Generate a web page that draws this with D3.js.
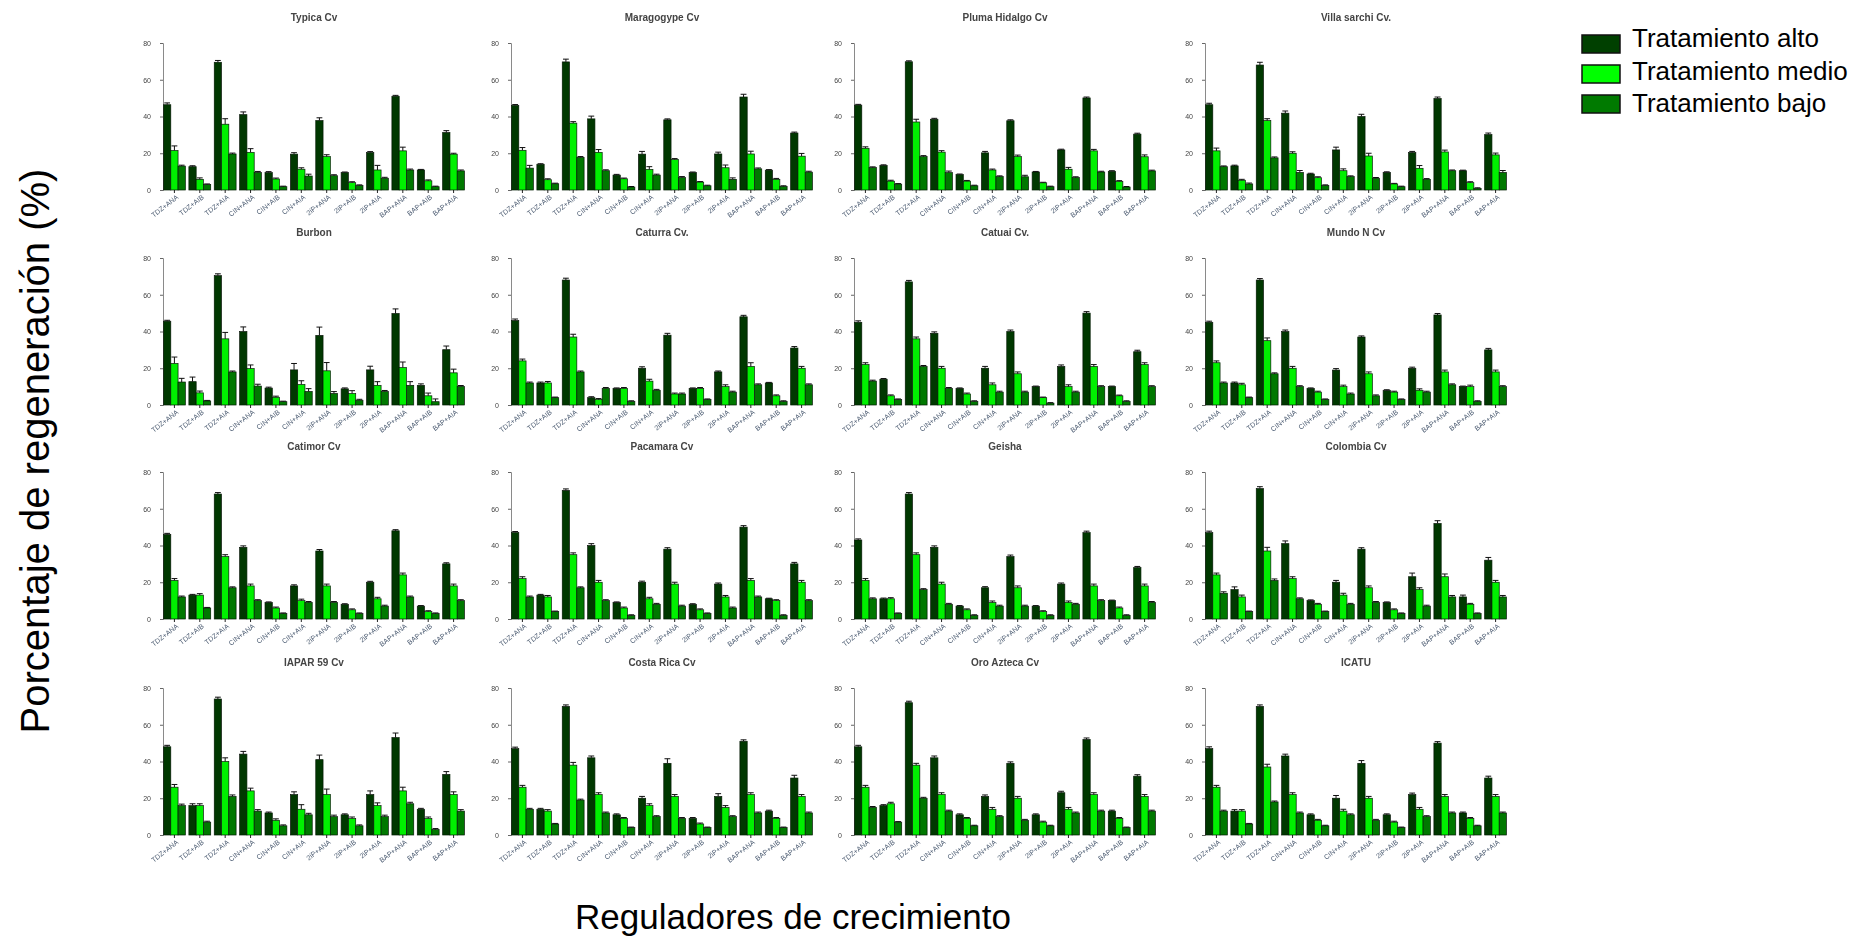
<!DOCTYPE html>
<html>
<head>
<meta charset="utf-8">
<script src="https://cdn.jsdelivr.net/npm/d3@7"></script>
<style>
  html, body { margin: 0; padding: 0; background: #fff; }
  svg { display: block; }
</style>
</head>
<body>
<script>
// Cultivars, one small panel each (4 x 4 grid, read row by row)
const cultivars = [
  "Typica Cv", "Maragogype Cv", "Pluma Hidalgo Cv", "Villa sarchi Cv.",
  "Burbon", "Caturra Cv.", "Catuai Cv.", "Mundo N Cv",
  "Catimor Cv", "Pacamara Cv", "Geisha", "Colombia Cv",
  "IAPAR 59 Cv", "Costa Rica Cv", "Oro Azteca Cv", "ICATU"
];

// Growth-regulator combinations on the x axis of every panel
const categories = [
  "TDZ+ANA", "TDZ+AIB", "TDZ+AIA",
  "CIN+ANA", "CIN+AIB", "CIN+AIA",
  "2iP+ANA", "2iP+AIB", "2iP+AIA",
  "BAP+ANA", "BAP+AIB", "BAP+AIA"
];

const seriesNames = ["Tratamiento alto", "Tratamiento medio", "Tratamiento bajo"];
const yTicks = [0, 20, 40, 60, 80];

// Regeneration (%) — one row per cultivar, in the order of `cultivars`
const altoValues = [
  [46.4, 12.7, 69.5, 41.0, 9.5, 19.5, 37.8, 9.5, 20.4, 51.0, 10.9, 31.3],
  [46.0, 14.0, 69.7, 38.7, 8.1, 19.5, 38.2, 9.5, 19.6, 50.6, 10.8, 31.0],
  [46.2, 13.4, 69.8, 38.5, 8.4, 20.2, 37.7, 9.8, 21.8, 50.1, 10.2, 30.4],
  [46.4, 13.1, 68.0, 41.8, 8.7, 21.8, 40.0, 9.6, 20.4, 49.8, 10.5, 30.2],
  [45.6, 12.7, 70.4, 40.0, 9.2, 19.1, 37.9, 8.8, 19.1, 49.8, 10.7, 30.1],
  [46.0, 12.0, 68.0, 4.0, 9.0, 20.0, 38.0, 9.0, 18.0, 48.0, 12.0, 31.0],
  [45.0, 14.0, 67.0, 39.0, 9.0, 20.0, 40.0, 10.0, 21.0, 50.0, 10.0, 29.0],
  [45.0, 12.0, 68.0, 40.0, 9.0, 19.0, 37.0, 8.0, 20.0, 49.0, 10.0, 30.0],
  [46.0, 13.0, 68.0, 39.0, 9.0, 18.0, 37.0, 8.0, 20.0, 48.0, 7.0, 30.0],
  [47.0, 13.0, 70.0, 40.0, 9.0, 20.0, 38.0, 8.0, 19.0, 50.0, 11.0, 30.0],
  [43.0, 11.0, 68.0, 39.0, 7.0, 17.0, 34.0, 7.0, 19.0, 47.0, 10.0, 28.0],
  [47.0, 16.0, 71.0, 41.0, 10.0, 20.0, 38.0, 9.0, 23.0, 52.0, 12.0, 32.0],
  [48.0, 16.0, 74.0, 44.0, 12.0, 22.0, 41.0, 11.0, 22.0, 53.0, 14.0, 33.0],
  [47.0, 14.0, 70.0, 42.0, 11.0, 20.0, 39.0, 9.0, 21.0, 51.0, 13.0, 31.0],
  [48.0, 16.0, 72.0, 42.0, 11.0, 21.0, 39.0, 11.0, 23.0, 52.0, 13.0, 32.0],
  [47.0, 13.0, 70.0, 43.0, 11.0, 20.0, 39.0, 11.0, 22.0, 50.0, 12.0, 31.0]
];
const medioValues = [
  [21.5, 5.8, 35.8, 20.5, 6.0, 11.3, 18.2, 4.0, 10.9, 21.3, 5.0, 19.5],
  [21.6, 5.6, 36.4, 20.5, 6.1, 11.2, 16.6, 4.3, 12.1, 19.6, 5.8, 18.4],
  [22.7, 4.8, 37.0, 20.6, 4.8, 10.9, 18.2, 3.9, 11.3, 21.3, 4.7, 18.1],
  [21.3, 5.3, 37.8, 20.0, 6.7, 10.5, 18.5, 3.3, 11.8, 20.7, 4.0, 19.1],
  [22.6, 6.6, 36.0, 19.8, 4.2, 11.2, 18.6, 6.3, 10.7, 20.4, 5.0, 17.5],
  [24.0, 12.0, 37.0, 3.0, 9.0, 13.0, 6.0, 9.0, 10.0, 21.0, 5.0, 20.0],
  [22.0, 5.0, 36.0, 20.0, 6.0, 11.0, 17.0, 4.0, 10.0, 21.0, 5.0, 22.0],
  [23.0, 11.0, 35.0, 20.0, 7.0, 10.0, 17.0, 7.0, 8.0, 18.0, 10.0, 18.0],
  [21.0, 13.0, 34.0, 18.0, 6.0, 10.0, 18.0, 5.0, 11.0, 24.0, 4.0, 18.0],
  [22.0, 12.0, 35.0, 20.0, 6.0, 11.0, 19.0, 5.0, 12.0, 21.0, 10.0, 20.0],
  [21.0, 11.0, 35.0, 19.0, 5.0, 9.0, 17.0, 4.0, 9.0, 18.0, 6.0, 18.0],
  [24.0, 12.0, 37.0, 22.0, 8.0, 13.0, 17.0, 5.0, 16.0, 23.0, 8.0, 20.0],
  [26.0, 16.0, 40.0, 24.0, 8.0, 14.0, 22.0, 9.0, 16.0, 24.0, 9.0, 22.0],
  [26.0, 13.0, 38.0, 22.0, 9.0, 16.0, 21.0, 6.0, 15.0, 22.0, 9.0, 21.0],
  [26.0, 17.0, 38.0, 22.0, 9.0, 14.0, 20.0, 7.0, 14.0, 22.0, 9.0, 21.0],
  [26.0, 13.0, 37.0, 22.0, 8.0, 13.0, 20.0, 7.0, 14.0, 21.0, 9.0, 21.0]
];
const bajoValues = [
  [13.0, 3.0, 19.6, 9.6, 1.8, 7.6, 7.8, 2.5, 6.4, 10.9, 1.8, 10.4],
  [11.9, 3.4, 17.7, 10.5, 1.6, 8.1, 6.8, 2.3, 5.8, 11.5, 2.0, 9.7],
  [12.2, 3.2, 18.2, 9.5, 2.3, 7.3, 7.2, 1.8, 6.8, 9.8, 1.6, 10.4],
  [12.7, 3.3, 17.5, 9.6, 2.5, 7.3, 6.4, 1.8, 5.8, 10.5, 0.9, 9.6],
  [12.5, 2.2, 18.0, 10.3, 1.8, 7.4, 6.3, 2.6, 7.4, 10.7, 1.8, 10.1],
  [12.0, 4.0, 18.0, 9.0, 2.0, 8.0, 6.0, 3.0, 7.0, 11.0, 2.0, 11.0],
  [13.0, 3.0, 21.0, 9.0, 2.0, 7.0, 7.0, 1.0, 7.0, 10.0, 2.0, 10.0],
  [12.0, 4.0, 17.0, 10.0, 3.0, 6.0, 5.0, 3.0, 7.0, 11.0, 2.0, 10.0],
  [12.0, 6.0, 17.0, 10.0, 3.0, 9.0, 9.0, 3.0, 7.0, 12.0, 3.0, 10.0],
  [12.0, 4.0, 17.0, 10.0, 2.0, 8.0, 7.0, 3.0, 6.0, 12.0, 2.0, 10.0],
  [11.0, 3.0, 16.0, 8.0, 2.0, 7.0, 7.0, 2.0, 8.0, 10.0, 2.0, 9.0],
  [14.0, 4.0, 21.0, 11.0, 4.0, 8.0, 9.0, 3.0, 7.0, 12.0, 3.0, 12.0],
  [16.0, 7.0, 21.0, 13.0, 5.0, 11.0, 10.0, 5.0, 10.0, 17.0, 3.0, 13.0],
  [14.0, 6.0, 19.0, 12.0, 4.0, 10.0, 9.0, 4.0, 10.0, 12.0, 4.0, 12.0],
  [15.0, 7.0, 20.0, 13.0, 5.0, 10.0, 8.0, 5.0, 12.0, 13.0, 4.0, 13.0],
  [13.0, 6.0, 18.0, 12.0, 5.0, 11.0, 8.0, 4.0, 10.0, 12.0, 5.0, 12.0]
];

// Standard errors, same layout as the value tables
const altoErr = [
  [1.0, 0.5, 1.0, 1.5, 0.5, 0.8, 1.5, 0.3, 0.5, 0.5, 0.3, 1.0],
  [0.5, 0.3, 1.5, 1.5, 0.4, 1.5, 0.5, 0.3, 1.0, 1.5, 0.3, 0.5],
  [0.4, 0.3, 0.5, 0.5, 0.3, 0.8, 0.5, 0.3, 0.4, 0.5, 0.3, 0.5],
  [0.8, 0.4, 1.5, 1.2, 0.4, 1.5, 1.2, 0.3, 0.6, 0.8, 0.3, 0.8],
  [0.5, 2.5, 1.0, 2.5, 0.5, 3.5, 4.5, 0.5, 2.0, 2.5, 0.8, 2.0],
  [0.8, 0.5, 1.0, 0.5, 0.3, 0.8, 1.0, 0.3, 0.5, 0.8, 0.3, 0.8],
  [0.8, 0.4, 0.8, 0.8, 0.3, 1.0, 0.8, 0.3, 0.8, 0.8, 0.3, 0.8],
  [0.6, 0.5, 0.8, 0.8, 0.3, 0.8, 0.6, 0.3, 0.6, 0.8, 0.3, 0.8],
  [0.6, 0.4, 0.8, 0.8, 0.3, 0.6, 0.8, 0.3, 0.5, 0.6, 0.3, 0.6],
  [0.6, 0.4, 0.8, 1.0, 0.3, 0.6, 0.8, 0.3, 0.6, 0.8, 0.3, 0.8],
  [0.6, 0.4, 0.8, 0.8, 0.3, 0.6, 0.8, 0.3, 0.6, 0.8, 0.3, 0.6],
  [0.8, 1.5, 1.0, 1.5, 0.4, 1.0, 0.8, 0.3, 2.0, 1.5, 1.0, 1.5],
  [0.8, 1.0, 1.0, 1.5, 0.5, 1.5, 2.5, 0.5, 2.0, 2.5, 0.5, 1.5],
  [0.8, 0.5, 0.8, 1.0, 0.5, 1.0, 2.5, 0.5, 1.5, 0.8, 0.5, 1.5],
  [0.8, 0.5, 0.8, 1.0, 0.5, 0.8, 0.8, 0.5, 0.8, 0.8, 0.5, 0.8],
  [1.0, 0.8, 0.8, 1.0, 0.5, 1.5, 1.5, 0.5, 0.8, 0.8, 0.5, 1.0]
];
const medioErr = [
  [2.5, 0.8, 3.0, 2.0, 0.5, 0.8, 1.0, 0.5, 2.5, 2.0, 0.5, 0.5],
  [1.5, 0.5, 0.8, 1.5, 0.4, 1.5, 0.5, 0.3, 1.5, 1.5, 0.5, 1.5],
  [0.8, 0.5, 1.5, 0.8, 0.4, 0.5, 0.8, 0.3, 1.0, 0.8, 0.4, 1.0],
  [1.5, 0.5, 1.0, 0.8, 0.5, 1.0, 1.5, 0.3, 1.5, 1.0, 0.5, 1.0],
  [3.5, 1.0, 3.5, 2.0, 0.6, 2.0, 4.5, 1.5, 2.0, 3.0, 1.5, 2.0],
  [1.0, 0.8, 1.5, 0.5, 0.5, 1.0, 0.5, 0.5, 1.0, 2.0, 0.5, 1.0],
  [1.0, 0.5, 1.0, 1.0, 0.5, 1.0, 1.0, 0.3, 1.0, 1.0, 0.4, 1.0],
  [1.0, 0.8, 1.5, 1.0, 0.5, 0.8, 1.0, 0.5, 0.8, 1.0, 0.8, 1.0],
  [1.0, 0.8, 1.0, 1.0, 0.5, 0.8, 1.0, 0.5, 0.8, 1.0, 0.5, 1.0],
  [1.0, 0.8, 1.0, 1.0, 0.5, 0.8, 1.0, 0.5, 0.8, 1.0, 0.5, 1.0],
  [1.0, 0.6, 1.0, 1.0, 0.5, 0.8, 1.0, 0.5, 0.8, 1.0, 0.5, 1.0],
  [1.0, 1.0, 2.0, 1.0, 0.5, 1.0, 1.0, 0.5, 1.0, 1.5, 0.5, 1.0],
  [1.5, 1.0, 2.0, 1.5, 0.8, 2.5, 3.0, 0.8, 1.5, 2.0, 0.8, 1.5],
  [1.0, 0.8, 1.5, 1.0, 0.5, 1.0, 1.0, 0.5, 1.0, 1.0, 0.5, 1.0],
  [1.0, 0.8, 1.0, 1.0, 0.5, 1.0, 1.0, 0.5, 1.0, 1.0, 0.5, 1.0],
  [1.0, 0.8, 1.5, 1.0, 0.5, 1.0, 1.0, 0.5, 1.0, 1.0, 0.5, 1.0]
];
const bajoErr = [
  [0.5, 0.3, 0.5, 0.5, 0.3, 1.0, 0.5, 0.3, 0.5, 0.5, 0.3, 0.5],
  [1.5, 0.3, 0.5, 0.5, 0.3, 0.5, 0.5, 0.3, 0.8, 0.5, 0.3, 0.5],
  [0.4, 0.3, 0.5, 0.8, 0.3, 0.4, 0.8, 0.3, 0.4, 0.4, 0.3, 0.4],
  [0.4, 0.5, 0.5, 1.0, 0.3, 0.4, 0.4, 0.3, 0.4, 0.4, 0.3, 1.0],
  [2.0, 0.3, 0.5, 1.0, 0.3, 1.5, 1.0, 0.5, 0.5, 2.0, 1.5, 0.5],
  [0.5, 0.3, 0.5, 0.5, 0.3, 0.5, 0.5, 0.3, 0.5, 0.5, 0.3, 0.5],
  [0.5, 0.3, 0.5, 0.5, 0.3, 0.5, 0.5, 0.3, 0.5, 0.5, 0.3, 0.5],
  [0.5, 0.3, 0.5, 0.5, 0.3, 0.5, 0.5, 0.3, 0.5, 0.5, 0.3, 0.5],
  [0.5, 0.3, 0.5, 0.5, 0.3, 0.5, 0.5, 0.3, 0.5, 0.5, 0.3, 0.5],
  [0.5, 0.3, 0.5, 0.5, 0.3, 0.5, 0.5, 0.3, 0.5, 0.5, 0.3, 0.5],
  [0.5, 0.3, 0.5, 0.5, 0.3, 0.5, 0.5, 0.3, 0.5, 0.5, 0.3, 0.5],
  [0.8, 0.3, 0.8, 0.5, 0.3, 0.5, 0.5, 0.3, 0.5, 0.8, 0.3, 0.8],
  [0.8, 0.5, 0.8, 0.8, 0.5, 0.8, 0.8, 0.5, 0.8, 0.8, 0.5, 0.8],
  [0.5, 0.3, 0.5, 0.5, 0.3, 0.5, 0.5, 0.3, 0.5, 0.5, 0.3, 0.5],
  [0.5, 0.3, 0.5, 0.5, 0.3, 0.5, 0.5, 0.3, 0.5, 0.5, 0.3, 0.5],
  [0.5, 0.3, 0.5, 0.5, 0.3, 0.5, 0.5, 0.3, 0.5, 0.5, 0.3, 0.5]
];

// ---- drawing -------------------------------------------------------------
const W = 1855, H = 939;
const seriesColors = ["#003800", "#00f000", "#007800"];
const legendColors = ["#004000", "#00ff00", "#007a00"];
const valueTables = [altoValues, medioValues, bajoValues];
const errTables = [altoErr, medioErr, bajoErr];

const svg = d3.select("body").append("svg")
  .attr("width", W).attr("height", H)
  .style("font-family", "'Liberation Sans', Arial, sans-serif");

// the small panels are soft, the legend and titles are crisp
svg.append("defs").append("filter")
  .attr("id", "soft")
  .attr("x", "-20%").attr("y", "-20%").attr("width", "140%").attr("height", "140%")
  .append("feGaussianBlur").attr("stdDeviation", 0.6);

const panelW = 302, panelH = 147;
const colLeft = [163, 511, 854, 1205];
const rowTop = [43, 258, 472, 688];

const x0 = d3.scaleBand().domain(categories).range([0, panelW])
  .paddingInner(0.14).paddingOuter(0.02);
const x1 = d3.scaleBand().domain(seriesNames).range([0, x0.bandwidth()]);
const y = d3.scaleLinear().domain([0, 80]).range([panelH, 0]);

cultivars.forEach((name, p) => {
  const g = svg.append("g")
    .attr("transform", `translate(${colLeft[p % 4]},${rowTop[Math.floor(p / 4)]})`)
    .attr("filter", "url(#soft)");

  g.append("text")
    .attr("x", panelW / 2).attr("y", -22)
    .attr("text-anchor", "middle")
    .attr("font-size", 10).attr("font-weight", "bold")
    .attr("fill", "#444")
    .text(name);

  // y axis
  const ya = g.append("g").call(
    d3.axisLeft(y).tickValues(yTicks).tickSize(3).tickPadding(9)
  );
  ya.select(".domain").attr("stroke", "#8a8a8a");
  ya.selectAll(".tick line").attr("stroke", "#666");
  ya.selectAll("text").attr("font-size", 7).attr("fill", "#444")
    .style("font-family", "'Liberation Sans', Arial, sans-serif");

  // x axis with slanted regulator labels
  const xa = g.append("g").attr("transform", `translate(0,${panelH})`)
    .call(d3.axisBottom(x0).tickSize(3).tickPadding(2));
  xa.select(".domain").remove();
  xa.selectAll(".tick line").attr("stroke", "#222");
  xa.selectAll("text")
    .attr("font-size", 7).attr("fill", "#4a5a70")
    .style("font-family", "'Liberation Sans', Arial, sans-serif")
    .attr("text-anchor", "end")
    .attr("dx", "-0.2em").attr("dy", "0.6em")
    .attr("transform", "rotate(-38)");

  // grouped bars
  categories.forEach((cat, j) => {
    seriesNames.forEach((s, k) => {
      const v = valueTables[k][p][j];
      const e = errTables[k][p][j];
      const bx = x0(cat) + x1(s);
      const bw = x1.bandwidth();
      g.append("rect")
        .attr("x", bx).attr("y", y(v))
        .attr("width", bw).attr("height", y(0) - y(v))
        .attr("fill", seriesColors[k])
        .attr("stroke", "#0a1a0a").attr("stroke-width", 0.7);
      // upper error bar
      g.append("line")
        .attr("x1", bx + bw / 2).attr("x2", bx + bw / 2)
        .attr("y1", y(v)).attr("y2", y(v + e))
        .attr("stroke", "#111").attr("stroke-width", 1);
      g.append("line")
        .attr("x1", bx + bw * 0.1).attr("x2", bx + bw * 0.9)
        .attr("y1", y(v + e)).attr("y2", y(v + e))
        .attr("stroke", "#111").attr("stroke-width", 1);
    });
  });
});

// legend
const legend = svg.append("g");
seriesNames.forEach((s, i) => {
  legend.append("rect")
    .attr("x", 1582).attr("y", 35 + i * 30)
    .attr("width", 38).attr("height", 18)
    .attr("fill", legendColors[i])
    .attr("stroke", "#111").attr("stroke-width", 1.5);
  legend.append("text")
    .attr("x", 1632).attr("y", 47 + i * 32.5)
    .attr("font-size", 26).attr("fill", "#000")
    .text(s);
});

// axis titles
svg.append("text")
  .attr("transform", "translate(49,451) rotate(-90)")
  .attr("text-anchor", "middle")
  .attr("font-size", 40).attr("fill", "#000")
  .text("Porcentaje de regeneración (%)");

svg.append("text")
  .attr("x", 793).attr("y", 929)
  .attr("text-anchor", "middle")
  .attr("font-size", 35).attr("fill", "#000")
  .text("Reguladores de crecimiento");
</script>
</body>
</html>
